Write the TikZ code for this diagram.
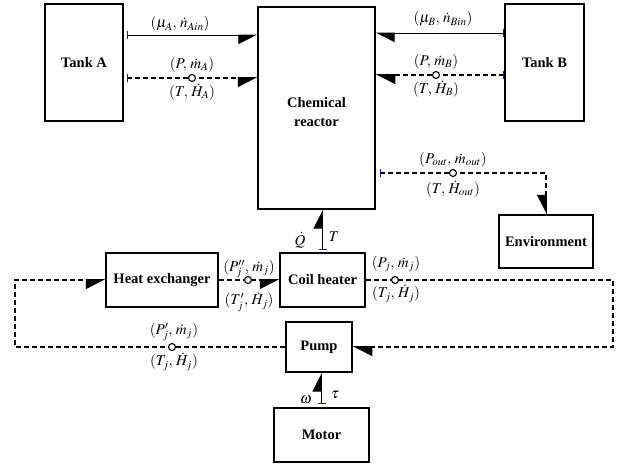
\documentclass[tikz,border=0pt]{standalone}
\usepackage{mathptmx}
\usepackage[no-math]{fontspec}
\setmainfont{Liberation Serif}
\usetikzlibrary{arrows.meta,positioning}
\definecolor{tickblue}{RGB}{30,30,120}
\tikzset{
  blk/.style={draw,line width=1.3pt,font=\fontsize{14.5}{19}\selectfont\bfseries,align=center,inner sep=0pt},
  lbl/.style={font=\fontsize{15}{17}\selectfont,inner sep=1pt},
  sig/.style={line width=0.9pt},
  flow/.style={line width=1.6pt,dash pattern=on 5pt off 3pt},
  valve/.style={circle,draw,line width=1.1pt,fill=white,inner sep=0pt,minimum size=7pt},
  hd/.tip={Triangle[harpoon,length=18pt,width=18pt]},
  hds/.tip={Triangle[harpoon,swap,length=18pt,width=18pt]},
  tk/.tip={Bar[width=8pt,line width=1pt,color=tickblue]}
}
\begin{document}
\begin{tikzpicture}[x=1pt,y=-1pt]
\useasboundingbox (0,0) rectangle (617,464);
% blocks
\node[blk,minimum width=78pt,minimum height=117pt] (tankA) at (84,62.5) {Tank A};
\node[blk,minimum width=117pt,minimum height=202pt] (reactor) at (316.5,108) {\mbox{}\\Chemical\\reactor};
\node[blk,minimum width=79pt,minimum height=117pt] (tankB) at (544.5,62.5) {Tank B};
\node[blk,minimum width=94pt,minimum height=53pt] (env) at (546,241.5) {Environment};
\node[blk,minimum width=112pt,minimum height=54pt] (hx) at (162,280) {Heat exchanger};
\node[blk,minimum width=85pt,minimum height=54pt] (coil) at (322.5,280) {Coil heater};
\node[blk,minimum width=66pt,minimum height=50pt] (pump) at (319,347) {Pump};
\node[blk,minimum width=95pt,minimum height=54pt] (motor) at (321.5,435) {Motor};
\coordinate (rloop) at (613,312);
\coordinate (lloop) at (15,315);
% tank links
\draw[sig,tk-hds,shorten <=3pt] (tankA.east |- 0,35) -- (reactor.west |- 0,35);
\draw[flow,tk-hds,shorten <=3pt] (tankA.east |- 0,78) -- (reactor.west |- 0,78);
\draw[sig,tk-hd] (tankB.west |- 0,33) -- (reactor.east |- 0,33);
\draw[flow,tk-hd] (tankB.west |- 0,75) -- (reactor.east |- 0,75);
\draw[flow,tk-hds,shorten <=4pt] (reactor.east |- 0,173) -| (env.north);
% jacket loop
\draw[flow,-hds] (hx.east) -- (coil.west);
\draw[flow,-hd] (coil.east) -| (rloop) |- (pump.east);
\draw[flow,-hds] (pump.west) -| (lloop) |- (hx.west);
\draw[sig,tk-hd,shorten <=2pt] (coil.north) -- (coil.north |- reactor.south);
\draw[sig,tk-hd,shorten <=3pt] (motor.north) -- (motor.north |- pump.south);
% valves
\node[valve] (vA) at (192,78) {};
\node[valve] (vB) at (436,75) {};
\node[valve] (vout) at (453,173) {};
\node[valve] (vhx) at (248,280) {};
\node[valve] (vcoil) at (395,280) {};
\node[valve] (vpump) at (172,347) {};
% labels
\node[lbl] (muA) at (180,24) {$(\mu_A,\,\dot n_{Ain})$};
\node[lbl] (muB) at (443,19) {$(\mu_B,\,\dot n_{Bin})$};
\node[lbl,above=1pt of vA] (PA) {$(P,\,\dot m_A)$};
\node[lbl,below=1pt of vA] (TA) {$(T,\,\dot H_A)$};
\node[lbl,above=1pt of vB] (PB) {$(P,\,\dot m_B)$};
\node[lbl,below=1pt of vB] (TB) {$(T,\,\dot H_B)$};
\node[lbl,above=1pt of vout] (Pout) {$(P_{out},\,\dot m_{out})$};
\node[lbl,below=3pt of vout] (Tout) {$(T,\,\dot H_{out})$};
\node[lbl] (Phx) at (249,269) {$(P''_j,\,\dot m_j)$};
\node[lbl] (Thx) at (249,302) {$(T'_j,\,\dot H_j)$};
\node[lbl] (Pcoil) at (396,264) {$(P_j,\,\dot m_j)$};
\node[lbl] (Tcoil) at (396,294) {$(T_j,\,\dot H_j)$};
\node[lbl] (Ppump) at (174,332) {$(P'_j,\,\dot m_j)$};
\node[lbl] (Tpump) at (174,362) {$(T_j,\,\dot H_j)$};
\node[lbl] (Qd) at (300,240) {$\dot Q$};
\node[lbl] (Tr) at (334,237) {$T$};
\node[lbl] (om) at (306,400) {$\omega$};
\node[lbl] (tau) at (335,395) {$\tau$};
\end{tikzpicture}
\end{document}
